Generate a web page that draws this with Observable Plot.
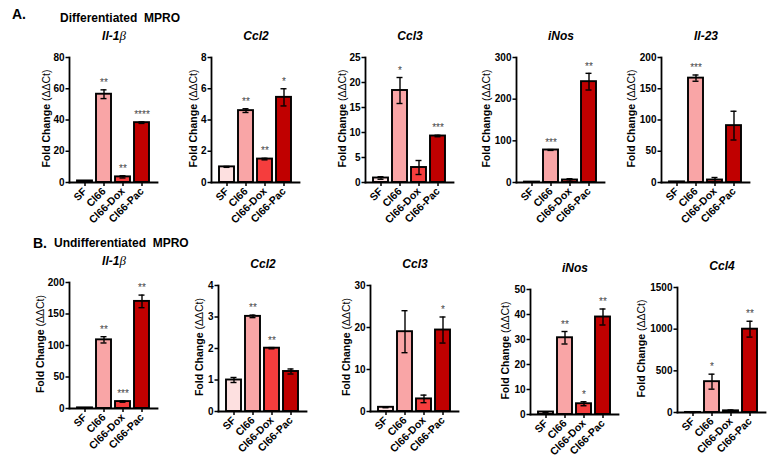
<!DOCTYPE html>
<html>
<head>
<meta charset="utf-8">
<script src="https://cdn.jsdelivr.net/npm/d3@7"></script>
<script src="https://cdn.jsdelivr.net/npm/@observablehq/plot@0.6"></script>
<style>
  html, body { margin: 0; padding: 0; background: #fff; }
  #root { position: relative; width: 776px; height: 466px; overflow: hidden; background: #fff;
          font-family: "Liberation Sans", Arial, sans-serif; color: #000; }
  .hdr { position: absolute; font-weight: bold; white-space: pre; line-height: 16px; }
  .ttl { position: absolute; width: 120px; text-align: center; font-weight: bold; font-style: italic;
         font-size: 12px; line-height: 14px; }
  .ttl .b { font-family: "Liberation Serif", "DejaVu Serif", serif; font-weight: normal; font-style: italic; font-size: 13px; }
  svg.plot { position: absolute; overflow: visible; }
</style>
</head>
<body>
<div id="root"></div>
<script>
// ---- categories & colours ----
const groups = ["SF", "Cl66", "Cl66-Dox", "Cl66-Pac"];
const groupColors = ["#fde0e0", "#f9a5a6", "#f53d3d", "#c00000"];

// ---- A. Differentiated MPRO ----
const A_Il1b = [1, 56.5, 3.6, 38.3];
const A_Il1b_sem = [0.1, 2.8, 0.7, 0.5];
const A_Il1b_sig = ["", "**", "**", "****"];
const A_Il1b_ticks = [0, 20, 40, 60, 80];

const A_Ccl2 = [1.0, 4.6, 1.5, 5.45];
const A_Ccl2_sem = [0.03, 0.12, 0.05, 0.55];
const A_Ccl2_sig = ["", "**", "**", "*"];
const A_Ccl2_ticks = [0, 2, 4, 6, 8];

const A_Ccl3 = [0.9, 18.4, 3.0, 9.3];
const A_Ccl3_sem = [0.25, 2.6, 1.4, 0.15];
const A_Ccl3_sig = ["", "*", "", "***"];
const A_Ccl3_ticks = [0, 5, 10, 15, 20, 25];

const A_iNos = [1, 78, 6, 242];
const A_iNos_sem = [0.2, 1, 3, 20];
const A_iNos_sig = ["", "***", "", "**"];
const A_iNos_ticks = [0, 100, 200, 300];

const A_Il23 = [1, 167, 4, 91];
const A_Il23_sem = [0.3, 5, 4, 23];
const A_Il23_sig = ["", "***", "", ""];
const A_Il23_ticks = [0, 50, 100, 150, 200];

// ---- B. Undifferentiated MPRO ----
const B_Il1b = [1, 109, 11, 170];
const B_Il1b_sem = [0.2, 5, 1, 10];
const B_Il1b_sig = ["", "**", "***", "**"];
const B_Il1b_ticks = [0, 50, 100, 150, 200];

const B_Ccl2 = [1.0, 3.02, 2.01, 1.27];
const B_Ccl2_sem = [0.08, 0.04, 0.02, 0.08];
const B_Ccl2_sig = ["", "**", "**", ""];
const B_Ccl2_ticks = [0, 1, 2, 3, 4];

const B_Ccl3 = [1.0, 19.0, 3.0, 19.4];
const B_Ccl3_sem = [0.1, 5.0, 0.9, 3.1];
const B_Ccl3_sig = ["", "", "", "*"];
const B_Ccl3_ticks = [0, 10, 20, 30];

const B_iNos = [1.0, 30.7, 4.3, 39];
const B_iNos_sem = [0.1, 2.5, 0.8, 3.2];
const B_iNos_sig = ["", "**", "*", "**"];
const B_iNos_ticks = [0, 10, 20, 30, 40, 50];

const B_Ccl4 = [1, 370, 20, 1000];
const B_Ccl4_sem = [1, 90, 10, 95];
const B_Ccl4_sig = ["", "*", "", "**"];
const B_Ccl4_ticks = [0, 500, 1000, 1500];

const headers = [
  {letter: "A.", text: "Differentiated  MPRO"},
  {letter: "B.", text: "Undifferentiated  MPRO"}
];

// ---- layout (positions only) ----
const panels = [
  {title: "Il-1<span class='b'>β</span>", vals: A_Il1b, sem: A_Il1b_sem, sig: A_Il1b_sig, ticks: A_Il1b_ticks, ax: 69, top: 57, zero: 182, lo: 23},
  {title: "Ccl2", vals: A_Ccl2, sem: A_Ccl2_sem, sig: A_Ccl2_sig, ticks: A_Ccl2_ticks, ax: 211, top: 57, zero: 182, lo: 18},
  {title: "Ccl3", vals: A_Ccl3, sem: A_Ccl3_sem, sig: A_Ccl3_sig, ticks: A_Ccl3_ticks, ax: 365, top: 57, zero: 182, lo: 23},
  {title: "iNos", vals: A_iNos, sem: A_iNos_sem, sig: A_iNos_sig, ticks: A_iNos_ticks, ax: 516, top: 57, zero: 182, lo: 30},
  {title: "Il-23", vals: A_Il23, sem: A_Il23_sem, sig: A_Il23_sig, ticks: A_Il23_ticks, ax: 661, top: 57, zero: 182, lo: 30},
  {title: "Il-1<span class='b'>β</span>", vals: B_Il1b, sem: B_Il1b_sem, sig: B_Il1b_sig, ticks: B_Il1b_ticks, ax: 69, top: 282, zero: 408, lo: 29},
  {title: "Ccl2", vals: B_Ccl2, sem: B_Ccl2_sem, sig: B_Ccl2_sig, ticks: B_Ccl2_ticks, ax: 218, top: 285, zero: 411, lo: 19},
  {title: "Ccl3", vals: B_Ccl3, sem: B_Ccl3_sem, sig: B_Ccl3_sig, ticks: B_Ccl3_ticks, ax: 370, top: 285, zero: 411, lo: 24},
  {title: "iNos", vals: B_iNos, sem: B_iNos_sem, sig: B_iNos_sig, ticks: B_iNos_ticks, ax: 530, top: 289, zero: 414, lo: 25},
  {title: "Ccl4", vals: B_Ccl4, sem: B_Ccl4_sem, sig: B_Ccl4_sig, ticks: B_Ccl4_ticks, ax: 677, top: 287, zero: 412, lo: 36}
];
const headerPos = [
  {lx: 12, ly: 6, tx: 60, ty: 10},
  {lx: 33, ly: 235, tx: 54, ty: 235}
];

const root = document.getElementById("root");

headers.forEach((h, i) => {
  const p = headerPos[i];
  const a = document.createElement("div");
  a.className = "hdr"; a.style.left = p.lx + "px"; a.style.top = p.ly + "px"; a.style.fontSize = "14px";
  a.textContent = h.letter; root.appendChild(a);
  const t = document.createElement("div");
  t.className = "hdr"; t.style.left = p.tx + "px"; t.style.top = p.ty + "px"; t.style.fontSize = "12px";
  t.textContent = h.text; root.appendChild(t);
});

const ML = 50, MT = 14, MR = 10, MB = 55, FW = 88;

panels.forEach(pn => {
  const rows = groups.map((g, i) => ({g, v: pn.vals[i], e: pn.sem[i], s: pn.sig[i]}));
  const fh = pn.zero - pn.top;
  const chart = Plot.plot({
    width: ML + FW + MR,
    height: MT + fh + MB,
    marginLeft: ML, marginTop: MT, marginRight: MR, marginBottom: MB,
    style: {fontFamily: "'Liberation Sans', Arial, sans-serif", fontWeight: "bold", color: "#000", background: "transparent", overflow: "visible"},
    x: {domain: groups, paddingInner: 0.2, paddingOuter: 0.38, label: null},
    y: {domain: [0, pn.ticks[pn.ticks.length - 1]], label: null},
    color: {domain: groups, range: groupColors},
    marks: [
      Plot.barY(rows, {x: "g", y: "v", fill: "g", stroke: "#000", strokeWidth: 1.9}),
      Plot.ruleX(rows, {x: "g", y1: d => d.v - d.e, y2: d => d.v + d.e, stroke: "#000", strokeWidth: 1.4}),
      Plot.tickY(rows, {x: "g", y: d => d.v + d.e, insetLeft: 4.5, insetRight: 4.5, stroke: "#000", strokeWidth: 1.4}),
      Plot.tickY(rows, {x: "g", y: d => Math.max(0, d.v - d.e), insetLeft: 4.5, insetRight: 4.5, stroke: "#000", strokeWidth: 1.4}),
      Plot.text(rows, {x: "g", y: d => d.v + d.e, text: "s", dy: -7, fill: "#444", fontSize: 10, fontWeight: "normal"}),
      Plot.axisY({ticks: pn.ticks, tickFormat: d => String(d), tickSize: 3.5, tickPadding: 1.5, fontSize: 10, strokeWidth: 1.5, label: null}),
      Plot.axisX({tickSize: 4, tickPadding: 3, tickRotate: -45, fontSize: 10.5, strokeWidth: 1.5, label: null}),
      Plot.frame({anchor: "left", strokeWidth: 1.8}),
      Plot.frame({anchor: "bottom", strokeWidth: 1.8}),
      Plot.text(["Fold Change"], {text: d => d, frameAnchor: "left", rotate: -90, dx: -pn.lo, dy: -16, textAnchor: "end", fontSize: 10.5, fontWeight: "bold"}),
      Plot.text(["(ΔΔCt)"], {text: d => d, frameAnchor: "left", rotate: -90, dx: -pn.lo, dy: -19, textAnchor: "start", fontSize: 10.5, fontWeight: "normal"})
    ]
  });
  chart.classList.add("plot");
  chart.style.left = (pn.ax - ML) + "px";
  chart.style.top = (pn.top - MT) + "px";
  root.appendChild(chart);

  const t = document.createElement("div");
  t.className = "ttl";
  t.style.left = (pn.ax + FW / 2 + 1 - 60) + "px";
  t.style.top = (pn.top - 21 - 7) + "px";
  t.innerHTML = pn.title;
  root.appendChild(t);
});
</script>
</body>
</html>
